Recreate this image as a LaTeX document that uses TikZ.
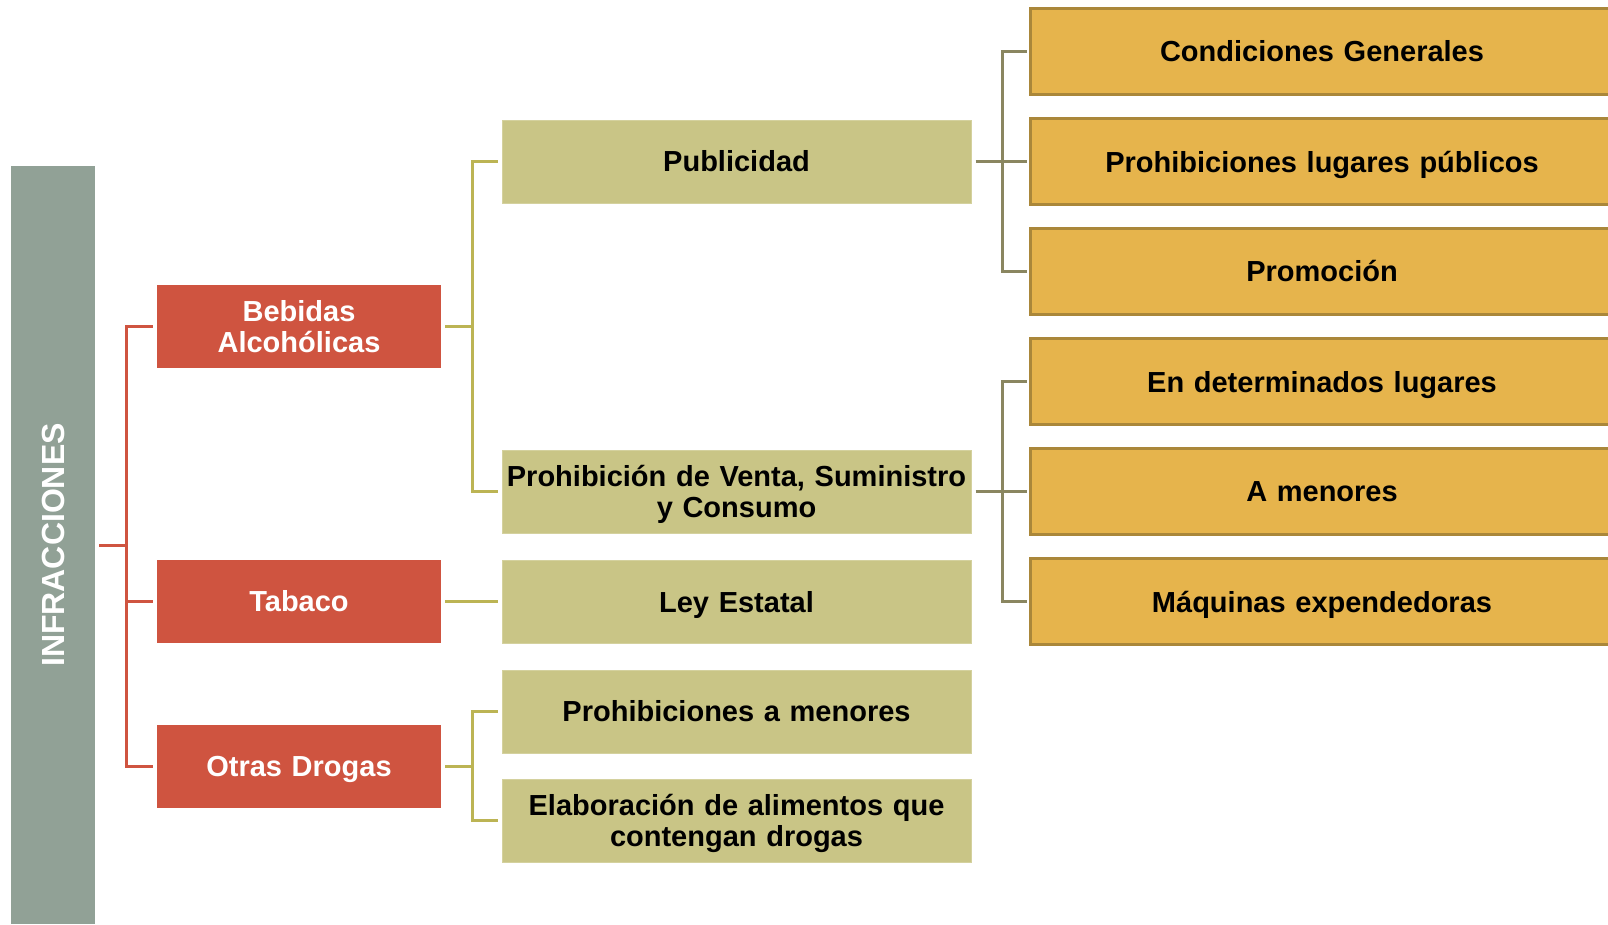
\documentclass[tikz,border=0pt]{standalone}
\usepackage{fontspec}
\setmainfont{Liberation Sans}
\definecolor{barc}{HTML}{91A196}
\definecolor{redc}{HTML}{CF5440}
\definecolor{olivec}{HTML}{C9C586}
\definecolor{olivel}{HTML}{BCB454}
\definecolor{orangec}{HTML}{E6B44C}
\definecolor{oranged}{HTML}{AA873A}
\definecolor{darkl}{HTML}{8A8660}
\newcommand\nodepth[1]{\raisebox{0pt}[\height][0pt]{#1}}
\tikzset{
  txt/.style={font=\fontsize{29}{31}\selectfont\bfseries, align=center, inner sep=0pt},
  barbox/.style={fill=barc, draw=none, rotate=90, minimum width=758pt, minimum height=84pt, inner sep=0pt, text=white, font=\fontsize{32}{34}\selectfont\bfseries},
  redbox/.style={txt, fill=redc, text=white, minimum width=284pt, minimum height=83pt, text width=284pt},
  olivebox/.style={txt, fill=olivec, draw=olivec!80!white, line width=1pt, text=black, minimum width=469pt, minimum height=83pt, text width=469pt},
  orangebox/.style={txt, fill=orangec, draw=oranged, line width=3pt, text=black, minimum width=584pt, minimum height=86pt, text width=584pt},
  redl/.style={draw=redc, line width=3pt},
  olivel/.style={draw=olivel, line width=3pt},
  darkl/.style={draw=darkl, line width=3pt}
}
\begin{document}
\begin{tikzpicture}[x=1pt,y=-1pt]
\useasboundingbox (0,0) rectangle (1608,924);
\clip (0,0) rectangle (1608,924);
\fill[white] (0,0) rectangle (1608,924);

% bar
\node[barbox] (bar) at (53,545) {INFRACCIONES};

% red boxes
\node[redbox] (beb) at (299,326.5) {Bebidas\\Alcohólicas};
\node[redbox] (tab) at (299,601.5) {Tabaco};
\node[redbox] (otr) at (299,766.5) {\nodepth{Otras Drogas}};

% olive boxes
\node[olivebox] (pub) at (736.5,161.5) {Publicidad};
\node[olivebox] (pvs) at (736.5,491.5) {Prohibición de Venta, Suministro\\\nodepth{y Consumo}};
\node[olivebox] (ley) at (736.5,601.5) {\nodepth{Ley Estatal}};
\node[olivebox] (pam) at (736.5,711.5) {Prohibiciones a menores};
\node[olivebox] (ela) at (736.5,820.5) {Elaboración de alimentos que\\\nodepth{contengan drogas}};

% orange boxes
\node[orangebox] (cg) at (1322,51.5) {Condiciones Generales};
\node[orangebox] (plp) at (1322,161.5) {\nodepth{Prohibiciones lugares públicos}};
\node[orangebox] (pro) at (1322,271.5) {Promoción};
\node[orangebox] (edl) at (1322,381.5) {\nodepth{En determinados lugares}};
\node[orangebox] (ame) at (1322,491.5) {A menores};
\node[orangebox] (mex) at (1322,601.5) {\nodepth{Máquinas expendedoras}};

% red connectors
\coordinate (rj) at (126,545);
\draw[redl] ([xshift=4pt]bar.south) -- (rj);
\draw[redl, line cap=rect] (rj |- beb.west) -- (rj |- otr.west);
\foreach \n in {beb,tab,otr}
  \draw[redl] (rj |- \n.west) -- ([xshift=-4pt]\n.west);

% olive connectors
\coordinate (oj) at (472,0);
\draw[olivel] ([xshift=4pt]beb.east) -- (oj |- beb.east);
\draw[olivel, line cap=rect] (oj |- pub.west) -- (oj |- pvs.west);
\foreach \n in {pub,pvs}
  \draw[olivel] (oj |- \n.west) -- ([xshift=-4pt]\n.west);
\draw[olivel] ([xshift=4pt]tab.east) -- ([xshift=-4pt]ley.west);
\draw[olivel] ([xshift=4pt]otr.east) -- (oj |- otr.east);
\draw[olivel, line cap=rect] (oj |- pam.west) -- (oj |- ela.west);
\foreach \n in {pam,ela}
  \draw[olivel] (oj |- \n.west) -- ([xshift=-4pt]\n.west);

% dark connectors
\coordinate (dj) at (1002,0);
\draw[darkl] ([xshift=4pt]pub.east) -- (dj |- pub.east);
\draw[darkl, line cap=rect] (dj |- cg.west) -- (dj |- pro.west);
\foreach \n in {cg,plp,pro}
  \draw[darkl] (dj |- \n.west) -- ([xshift=-1.5pt]\n.west);
\draw[darkl] ([xshift=4pt]pvs.east) -- (dj |- pvs.east);
\draw[darkl, line cap=rect] (dj |- edl.west) -- (dj |- mex.west);
\foreach \n in {edl,ame,mex}
  \draw[darkl] (dj |- \n.west) -- ([xshift=-1.5pt]\n.west);
\end{tikzpicture}
\end{document}
